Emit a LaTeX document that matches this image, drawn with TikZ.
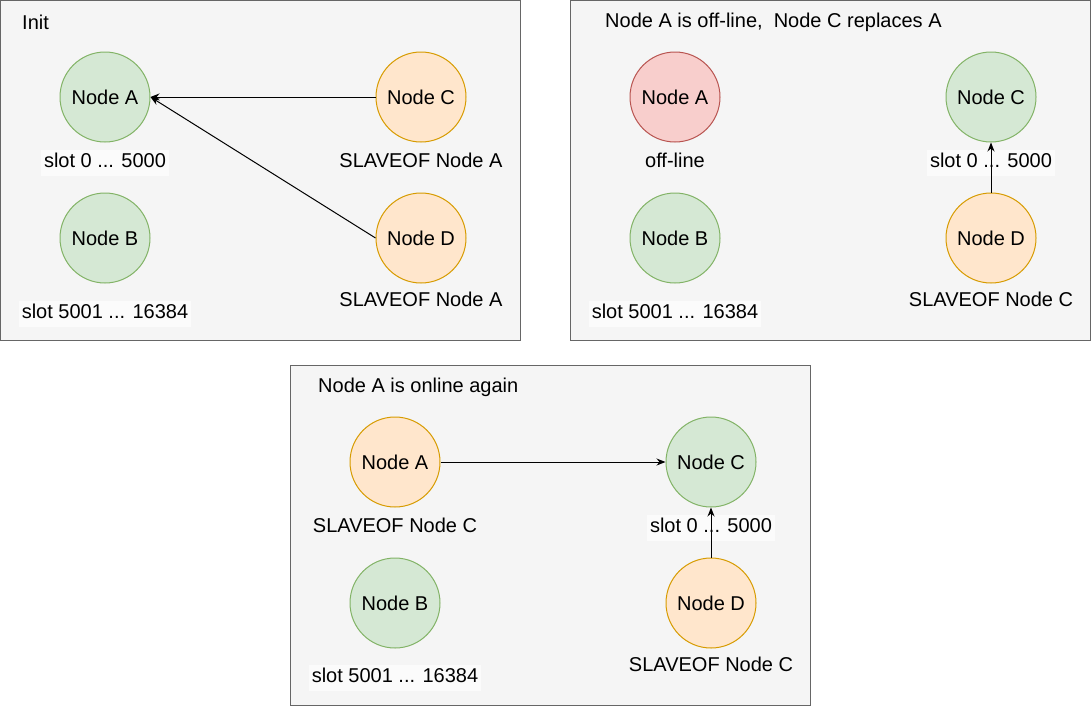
\documentclass[tikz,border=0pt]{standalone}
\usepackage{fontspec}
\setmainfont{Liberation Sans}
\usepackage{xcolor}
\usepackage{tikz}
\usetikzlibrary{arrows.meta,positioning}

\definecolor{panelfill}{HTML}{F5F5F5}
\definecolor{panelline}{HTML}{666666}
\definecolor{greenfill}{HTML}{D5E8D4}
\definecolor{greenline}{HTML}{82B366}
\definecolor{orangefill}{HTML}{FFE6CC}
\definecolor{orangeline}{HTML}{D79B00}
\definecolor{redfill}{HTML}{F8CECC}
\definecolor{redline}{HTML}{B85450}

\begin{document}
\begin{tikzpicture}[x=1pt, y=-1pt,
  every node/.style={font=\fontsize{20}{24}\selectfont},
  panel/.style={rectangle, draw=panelline, fill=panelfill, line width=1pt, minimum width=520pt, minimum height=340pt},
  master/.style={circle, draw=greenline, fill=greenfill, line width=1pt, minimum size=90pt, inner sep=0pt},
  slave/.style={master, draw=orangeline, fill=orangefill},
  down/.style={master, draw=redline, fill=redfill},
  caption/.style={inner sep=3pt, text height=15pt, text depth=5pt},
  slots/.style={caption, fill=white!60!panelfill},
  title/.style={anchor=west, inner sep=0pt},
  arrow/.style={-{Stealth[length=9pt,width=7pt]}, line width=1pt},
  node distance=50pt and 225pt
]
\useasboundingbox (0,0) rectangle (1091,707);

% Init
\node[panel] (init) at (260.5,170.5) {};
\node[title] (initT) at (22,22) {Init};
\node[master] (initA) at (105,97) {Node A};
\node[master, below=of initA] (initB) {Node B};
\node[slave, right=of initA] (initC) {Node C};
\node[slave, below=of initC] (initD) {Node D};
\node[slots, below=7pt of initA] (initAs) {slot 0 ... 5000};
\node[slots, below=17pt of initB] (initBs) {slot 5001 ... 16384};
\node[caption, below=7pt of initC] (initCs) {SLAVEOF Node A};
\node[caption, below=5pt of initD] (initDs) {SLAVEOF Node A};
\draw[arrow] (initC) -- (initA);
\draw[arrow] (initD.west) -- (initA.east);

% Node A off-line
\node[panel] (off) at (830.5,170.5) {};
\node[title] (offT) at (605,22) {Node A is off-line,\ \ Node C replaces A};
\node[down] (offA) at (675,97) {Node A};
\node[master, below=of offA] (offB) {Node B};
\node[master, right=of offA] (offC) {Node C};
\node[slave, below=of offC] (offD) {Node D};
\node[caption, below=7pt of offA] (offAs) {off-line};
\node[slots, below=17pt of offB] (offBs) {slot 5001 ... 16384};
\node[slots, below=7pt of offC] (offCs) {slot 0 ... 5000};
\node[caption, below=5pt of offD] (offDs) {SLAVEOF Node C};
\draw[arrow] (offD) -- (offC);

% Node A online again
\node[panel] (on) at (550.5,535.5) {};
\node[title] (onT) at (318,387) {Node A is online again};
\node[slave] (onA) at (395,462) {Node A};
\node[master, below=of onA] (onB) {Node B};
\node[master, right=of onA] (onC) {Node C};
\node[slave, below=of onC] (onD) {Node D};
\node[caption, below=7pt of onA] (onAs) {SLAVEOF Node C};
\node[slots, below=16pt of onB] (onBs) {slot 5001 ... 16384};
\node[slots, below=7pt of onC] (onCs) {slot 0 ... 5000};
\node[caption, below=5pt of onD] (onDs) {SLAVEOF Node C};
\draw[arrow] (onA) -- (onC);
\draw[arrow] (onD) -- (onC);
\end{tikzpicture}
\end{document}
